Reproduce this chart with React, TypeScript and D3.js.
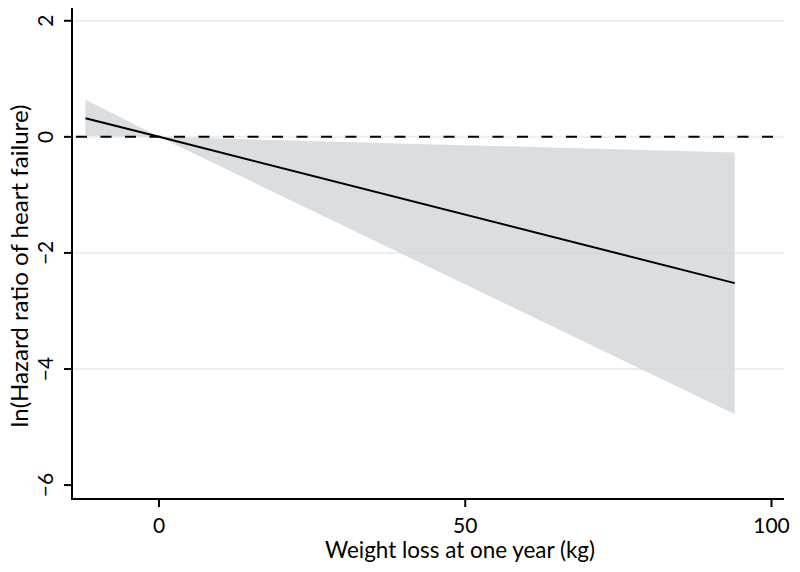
import React from "react";
import * as d3 from "d3";

// Data
const weightLoss = [-12, 0, 94];
const lnHazard = [0.32, 0, -2.52];
const ciLower = [0.02, 0, -4.78];
const ciUpper = [0.64, 0, -0.27];

const xTicks = [0, 50, 100];
const yTicks = [-6, -4, -2, 0, 2];
const yGrid = [2, 0, -2, -4];

const xTitle = "Weight loss at one year (kg)";
const yTitle = "ln(Hazard ratio of heart failure)";

const W = 800;
const H = 572;
const left = 72;
const right = 784;
const top = 8;
const bottom = 499;

export default function App() {
  const x = d3.scaleLinear().domain([-14.2, 102.04]).range([left, right]);
  const y = d3.scaleLinear().domain([-6.24, 2.22]).range([bottom, top]);

  const pts = weightLoss.map((w, i) => ({ w, f: lnHazard[i], lo: ciLower[i], hi: ciUpper[i] }));

  const area = d3
    .area<{ w: number; lo: number; hi: number }>()
    .x((d) => x(d.w))
    .y0((d) => y(d.lo))
    .y1((d) => y(d.hi));
  const line = d3
    .line<{ w: number; f: number }>()
    .x((d) => x(d.w))
    .y((d) => y(d.f));

  const font = "Lato, 'Open Sans', sans-serif";

  return (
    <svg
      width={W}
      height={H}
      style={{ position: "absolute", left: 0, top: 0, background: "#fff" }}
      fontFamily={font}
    >
      <rect x={0} y={0} width={W} height={H} fill="#fff" />
      {/* band */}
      <path d={area(pts) || ""} fill="#dadee1" stroke="none" />
      {/* gridlines */}
      {yGrid.map((t) => (
        <line
          key={"g" + t}
          x1={left + 1}
          x2={right}
          y1={y(t)}
          y2={y(t)}
          stroke="rgb(200,215,222)"
          strokeOpacity={0.4}
          strokeWidth={2}
        />
      ))}
      {/* zero reference line */}
      <line
        x1={left + 1}
        x2={right}
        y1={y(0)}
        y2={y(0)}
        stroke="#000"
        strokeWidth={2}
        strokeDasharray="11 13.5"
        strokeDashoffset={-3}
      />
      {/* fit line */}
      <path d={line(pts) || ""} fill="none" stroke="#000" strokeWidth={2} />
      {/* axes */}
      <line x1={left} x2={left} y1={top} y2={bottom + 1} stroke="#000" strokeWidth={2} />
      <line x1={left - 1} x2={right} y1={bottom} y2={bottom} stroke="#000" strokeWidth={2} />
      {yTicks.map((t) => (
        <g key={"yt" + t}>
          <line x1={left - 8} x2={left} y1={y(t)} y2={y(t)} stroke="#000" strokeWidth={2} />
          <text
            transform={`translate(53,${y(t)}) rotate(-90)`}
            textAnchor="middle"
            fontSize={21}
            fill="#000"
          >
            {t < 0 ? "\u2212" + Math.abs(t) : String(t)}
          </text>
        </g>
      ))}
      {xTicks.map((t) => (
        <g key={"xt" + t}>
          <line x1={x(t)} x2={x(t)} y1={bottom} y2={bottom + 8} stroke="#000" strokeWidth={2} />
          <text x={x(t)} y={533} textAnchor="middle" fontSize={21} fill="#000">
            {t}
          </text>
        </g>
      ))}
      <text
        x={460}
        y={558}
        textAnchor="middle"
        fontSize={23}
        textLength={270}
        lengthAdjust="spacingAndGlyphs"
        fill="#000"
      >
        {xTitle}
      </text>
      <text
        transform={`translate(28,266) rotate(-90)`}
        textAnchor="middle"
        fontSize={23}
        textLength={323}
        lengthAdjust="spacingAndGlyphs"
        fill="#000"
      >
        {yTitle}
      </text>
    </svg>
  );
}
